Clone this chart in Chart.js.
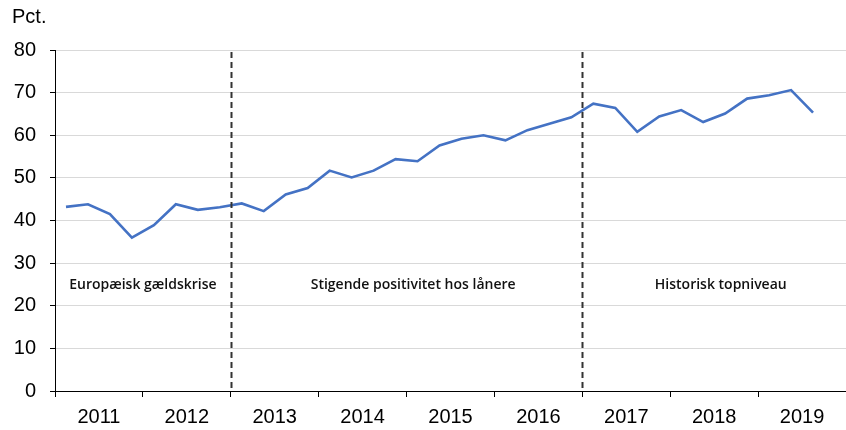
<!DOCTYPE html>
<html lang="da">

<style type="text/css">
    html, body {
        margin: 0;
        padding: 0;
        background: #ffffff;
        overflow: hidden;
    }

    .chartBox {
        width: 846px;
        height: 430px;
        position: relative;
    }
</style>

<head>
    <meta charset="UTF-8">
    <title>Pct.</title>
</head>

<body>
    <div class="chartBox">
        <canvas id="myChart"></canvas>
    </div>

    <script src="https://cdn.jsdelivr.net/npm/chart.js"></script>

    <script>
        // Years on the axis (2019 only partly filled)
        const years = ['2011', '2012', '2013', '2014', '2015', '2016', '2017', '2018', '2019'];

        // Quarterly values, 2011 K1 .. 2019 K3
        const quarters = [
            '2011K1', '2011K2', '2011K3', '2011K4',
            '2012K1', '2012K2', '2012K3', '2012K4',
            '2013K1', '2013K2', '2013K3', '2013K4',
            '2014K1', '2014K2', '2014K3', '2014K4',
            '2015K1', '2015K2', '2015K3', '2015K4',
            '2016K1', '2016K2', '2016K3', '2016K4',
            '2017K1', '2017K2', '2017K3', '2017K4',
            '2018K1', '2018K2', '2018K3', '2018K4',
            '2019K1', '2019K2', '2019K3'
        ];
        const values = [
            43.2, 43.8, 41.5, 36.0,
            38.9, 43.8, 42.5, 43.1,
            44.0, 42.2, 46.1, 47.6,
            51.7, 50.1, 51.7, 54.4,
            53.9, 57.6, 59.2, 60.0,
            58.8, 61.2, 62.7, 64.2,
            67.4, 66.4, 60.8, 64.4,
            65.9, 63.1, 65.1, 68.6,
            69.4, 70.6, 65.3
        ];

        // Y axis ticks
        const yTicks = [0, 10, 20, 30, 40, 50, 60, 70, 80];

        // Periods, separated by dashed lines (in quarter units)
        const periodLabels = ['Europæisk gældskrise', 'Stigende positivitet hos lånere', 'Historisk topniveau'];
        const periodBreaks = [7.5, 23.5];

        const points = values.map((v, i) => ({ x: i, y: v }));

        // Draws the "Pct." unit, the dashed period lines and period texts
        const periodPlugin = {
            id: 'periods',
            afterDatasetsDraw(chart) {
                const ctx = chart.ctx;
                const xs = chart.scales.x;
                const ys = chart.scales.y;
                const area = chart.chartArea;

                ctx.save();
                ctx.strokeStyle = '#333333';
                ctx.lineWidth = 2;
                ctx.setLineDash([6, 4]);
                periodBreaks.forEach(b => {
                    const px = Math.round(xs.getPixelForValue(b)) + 0.5;
                    ctx.beginPath();
                    ctx.moveTo(px, area.top + 2);
                    ctx.lineTo(px, area.bottom);
                    ctx.stroke();
                });
                ctx.setLineDash([]);

                // text centres, quarter units
                const centres = [3.5, 15.8, 29.8];
                ctx.fillStyle = '#111111';
                ctx.font = '600 14px "Open Sans"';
                ctx.textAlign = 'center';
                ctx.textBaseline = 'middle';
                periodLabels.forEach((t, i) => {
                    ctx.fillText(t, xs.getPixelForValue(centres[i]), ys.getPixelForValue(24.8));
                });

                ctx.fillStyle = '#000000';
                ctx.font = '20px "Liberation Sans", Arial';
                ctx.textAlign = 'left';
                ctx.fillText('Pct.', 12, 17);
                ctx.restore();
            }
        };

        const config = {
            type: 'line',
            data: {
                datasets: [{
                    label: 'Pct.',
                    data: points,
                    borderColor: '#4472C4',
                    borderWidth: 2.6,
                    pointRadius: 0,
                    pointHoverRadius: 0,
                    tension: 0,
                    fill: false
                }]
            },
            options: {
                responsive: true,
                maintainAspectRatio: false,
                animation: false,
                layout: {
                    autoPadding: false,
                    padding: { top: 50, left: 0, right: 0, bottom: 0 }
                },
                plugins: {
                    legend: { display: false },
                    tooltip: { enabled: false },
                    title: { display: false }
                },
                scales: {
                    x: {
                        type: 'linear',
                        min: -0.5,
                        max: 35.5,
                        afterBuildTicks: function (scale) {
                            const t = [];
                            for (let v = -0.5; v <= 35.5; v += 2) {
                                t.push({ value: v });
                            }
                            scale.ticks = t;
                        },
                        afterFit: function (scale) {
                            scale.height = 39;
                            scale.paddingLeft = 0;
                            scale.paddingRight = 0;
                        },
                        ticks: {
                            autoSkip: false,
                            maxRotation: 0,
                            minRotation: 0,
                            padding: 8,
                            color: '#000000',
                            font: { family: '"Liberation Sans", Arial', size: 20 },
                            callback: function (val) {
                                const k = (val - 1.5) / 4;
                                return Number.isInteger(k) && years[k] ? years[k] : '';
                            }
                        },
                        grid: {
                            drawOnChartArea: false,
                            tickLength: 6,
                            tickColor: function (ctx) {
                                const k = (ctx.tick.value + 0.5) / 4;
                                return Number.isInteger(k) ? '#000000' : 'rgba(0,0,0,0)';
                            }
                        },
                        border: { display: true, color: '#000000', width: 1 }
                    },
                    y: {
                        min: 0,
                        max: 80,
                        afterBuildTicks: function (scale) {
                            scale.ticks = yTicks.map(v => ({ value: v }));
                        },
                        afterFit: function (scale) {
                            scale.width = 55;
                        },
                        ticks: {
                            padding: 14,
                            color: '#000000',
                            font: { family: '"Liberation Sans", Arial', size: 20 }
                        },
                        grid: {
                            color: '#d9d9d9',
                            lineWidth: 1,
                            tickColor: '#000000',
                            tickLength: 5
                        },
                        border: { display: true, color: '#000000', width: 1 }
                    }
                }
            },
            plugins: [periodPlugin]
        };

        const myChart = new Chart(document.getElementById('myChart'), config);
    </script>
</body>

</html>
